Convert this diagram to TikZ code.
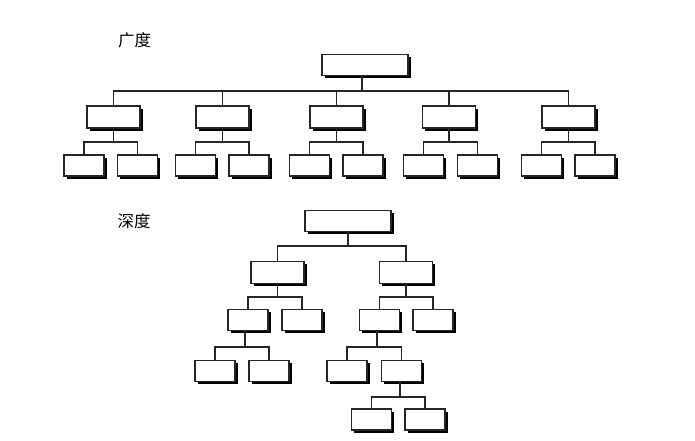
\documentclass[tikz,border=0pt]{standalone}
\usepackage{fontspec}
\newfontfamily\cjk{Noto Sans CJK SC}
\usetikzlibrary{shadows}

\begin{document}
\begin{tikzpicture}[x=1pt, y=-1pt, line width=1.1pt, draw=black!85,
  box/.style={rectangle, draw=black!85, fill=white, inner sep=0pt, line width=1.2pt,
    drop shadow={shadow xshift=2.8pt, shadow yshift=-2.8pt, fill=black, opacity=1}},
  big/.style={box, minimum width=86pt, minimum height=21pt},
  mid/.style={box, minimum width=53pt, minimum height=22pt},
  leaf/.style={box, minimum width=40pt, minimum height=21pt},
  title/.style={font=\cjk\fontsize{16.5}{16.5}\selectfont}]
  \useasboundingbox (0,0) rectangle (695,440);
  \node [title] (t1) at (134.5, 40) {广度};
  \node [title] (t2) at (134, 221) {深度};
  \node [big] (r) at (365, 65) {};
  \node [mid] (a1) at (113.5, 117) {};
  \node [mid] (a2) at (222.5, 117) {};
  \node [mid] (a3) at (336.5, 117) {};
  \node [mid] (a4) at (449, 117) {};
  \node [mid] (a5) at (568.5, 117) {};
  \node [leaf] (b1) at (84, 165.5) {};
  \node [leaf] (b2) at (137.5, 165.5) {};
  \node [leaf] (b3) at (195.5, 165.5) {};
  \node [leaf] (b4) at (249, 165.5) {};
  \node [leaf] (b5) at (309.5, 165.5) {};
  \node [leaf] (b6) at (363, 165.5) {};
  \node [leaf] (b7) at (423.5, 165.5) {};
  \node [leaf] (b8) at (477.5, 165.5) {};
  \node [leaf] (b9) at (541.5, 165.5) {};
  \node [leaf] (b10) at (595, 165.5) {};
  \coordinate (rb) at (362, 91);
  \coordinate (ab1) at (113.5, 142);
  \coordinate (ab2) at (222.5, 142);
  \coordinate (ab3) at (336.5, 142);
  \coordinate (ab4) at (449, 142);
  \coordinate (ab5) at (568.5, 142);
  \draw (r.south -| rb) -- (rb);
  \draw (rb) -| (a1.north);
  \draw (rb) -| (a2.north);
  \draw (rb) -| (a3.north);
  \draw (rb) -| (a4.north);
  \draw (rb) -| (a5.north);
  \draw (a1) -- (ab1);
  \draw (a2) -- (ab2);
  \draw (a3) -- (ab3);
  \draw (a4) -- (ab4);
  \draw (a5) -- (ab5);
  \draw (ab1) -| (b1.north);
  \draw (ab1) -| (b2.north);
  \draw (ab2) -| (b3.north);
  \draw (ab2) -| (b4.north);
  \draw (ab3) -| (b5.north);
  \draw (ab3) -| (b6.north);
  \draw (ab4) -| (b7.north);
  \draw (ab4) -| (b8.north);
  \draw (ab5) -| (b9.north);
  \draw (ab5) -| (b10.north);
  \node [big] (d) at (348, 221) {};
  \node [mid] (c1) at (277.5, 272.5) {};
  \node [mid] (c2) at (406, 272.5) {};
  \node [leaf] (e1) at (248, 320) {};
  \node [leaf] (e2) at (302, 320) {};
  \node [leaf] (e3) at (379.5, 320) {};
  \node [leaf] (e4) at (433, 320) {};
  \node [leaf] (f1) at (215, 371) {};
  \node [leaf] (f2) at (269, 371) {};
  \node [leaf] (f3) at (347, 371) {};
  \node [leaf] (f4) at (401.5, 371) {};
  \node [leaf] (g1) at (371.5, 419.5) {};
  \node [leaf] (g2) at (425, 419.5) {};
  \coordinate (db) at (348, 246);
  \coordinate (cb1) at (277.5, 297);
  \coordinate (cb2) at (406, 297);
  \coordinate (eb1) at (245, 347);
  \coordinate (eb3) at (377, 347);
  \coordinate (fb4) at (400, 397);
  \draw (d) -- (db);
  \draw (db) -| (c1.north);
  \draw (db) -| (c2.north);
  \draw (c1) -- (cb1);
  \draw (c2) -- (cb2);
  \draw (cb1) -| (e1.north);
  \draw (cb1) -| (e2.north);
  \draw (cb2) -| (e3.north);
  \draw (cb2) -| (e4.north);
  \draw (e1.south -| eb1) -- (eb1);
  \draw (e3.south -| eb3) -- (eb3);
  \draw (eb1) -| (f1.north);
  \draw (eb1) -| (f2.north);
  \draw (eb3) -| (f3.north);
  \draw (eb3) -| (f4.north);
  \draw (f4.south -| fb4) -- (fb4);
  \draw (fb4) -| (g1.north);
  \draw (fb4) -| (g2.north);
\end{tikzpicture}
\end{document}
